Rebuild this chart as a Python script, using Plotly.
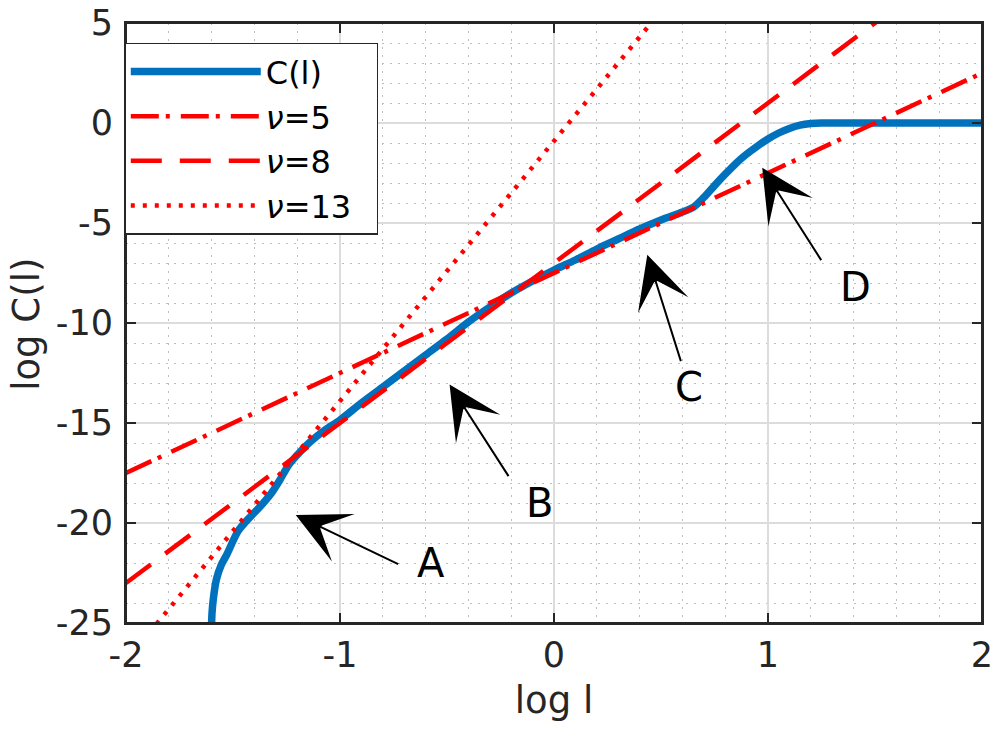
import numpy as np
import plotly.graph_objects as go

# ---------------- data ----------------
log_l = [-1.600, -1.598, -1.592, -1.577, -1.555, -1.530, -1.476, -1.420, -1.375,
         -1.320, -1.281, -1.240, -1.200, -1.140, -1.070, -1.000, -0.900, -0.800,
         -0.700, -0.600, -0.500, -0.400, -0.300, -0.200, -0.100, 0.000, 0.100,
         0.200, 0.300, 0.400, 0.500, 0.600, 0.650, 0.700, 0.750, 0.800, 0.850,
         0.900, 0.950, 1.000, 1.050, 1.100, 1.150, 1.200, 1.250, 1.300, 1.500,
         1.750, 2.000]
log_C = [-25.0, -24.5, -23.8, -22.8, -22.1, -21.6, -20.4, -19.7, -19.2,
         -18.5, -17.85, -17.1, -16.6, -15.95, -15.35, -14.85, -14.0, -13.2,
         -12.4, -11.6, -10.8, -9.95, -9.2, -8.5, -7.9, -7.35, -6.85,
         -6.3, -5.8, -5.3, -4.85, -4.45, -4.22, -3.72, -3.13, -2.56, -2.02,
         -1.56, -1.16, -0.8, -0.5, -0.27, -0.11, -0.03, 0.0, 0.0, 0.0,
         0.0, 0.0]

nu_values = [5, 8, 13]
nu_offsets = [-7.5, -7.0, -0.9]          # intercepts of the reference lines
nu_names = ["<i>ν</i>=5", "<i>ν</i>=8", "<i>ν</i>=13\u00a0\u00a0"]
nu_dashes = ["28px,7px,4px,11px", "31px,18px", "4px,8px"]
line_x = [-2.0, 2.0]

x_tickvals = [-2, -1, 0, 1, 2]
x_ticktext = ["-2", "-1", "0", "1", "2"]
y_tickvals = [-25, -20, -15, -10, -5, 0, 5]
y_ticktext = ["-25", "-20", "-15", "-10", "-5", "0", "5"]
x_range = [-2, 2]
y_range = [-25, 5]
x_title = "log l"
y_title = "log C(l)"

# annotations: label, tip (x,y), tail (x,y), text position (x,y)
ann_labels = ["A", "B", "C", "D"]
ann_tip = [(-1.207, -19.6), (-0.488, -13.08), (0.436, -6.59), (0.973, -2.24)]
ann_tail = [(-0.721, -22.09), (-0.208, -17.73), (0.595, -11.98), (1.253, -6.93)]
ann_text = [(-0.577, -22.0), (-0.068, -19.0), (0.632, -13.2), (1.407, -8.18)]

FONT = "DejaVu Sans"
AXC = "#262626"
PAGE_OFFSET = 8  # default body margin of the html page

fig = go.Figure()
fig.add_trace(go.Scatter(x=log_l, y=log_C, mode="lines", name="C(l)",
                         line=dict(color="#0072BD", width=7.5, shape="spline",
                                   smoothing=0.8)))
for nu, c, name, dash in zip(nu_values, nu_offsets, nu_names, nu_dashes):
    ys = [nu * xv + c for xv in line_x]
    fig.add_trace(go.Scatter(x=line_x, y=ys, mode="lines", name=name,
                             line=dict(color="#FF0000", width=4.5, dash=dash)))

annotations = []
for lab, tip, tail, tp in zip(ann_labels, ann_tip, ann_tail, ann_text):
    annotations.append(dict(x=tip[0], y=tip[1], ax=tail[0], ay=tail[1],
                            xref="x", yref="y", axref="x", ayref="y",
                            text="", showarrow=True, arrowhead=3,
                            arrowsize=4.4, arrowwidth=2, arrowcolor="black",
                            standoff=0, startstandoff=0))
    annotations.append(dict(x=tp[0], y=tp[1], xref="x", yref="y", text=lab,
                            showarrow=False,
                            font=dict(family=FONT, size=40, color="black")))
# y-axis title placed as a rotated text beside the axis
annotations.append(dict(x=0, y=0.497, xref="paper", yref="paper", text=y_title,
                        textangle=-90, showarrow=False, xanchor="center",
                        yanchor="middle", xshift=-99,
                        font=dict(family=FONT, size=37, color=AXC)))

axis_common = dict(showline=True, linecolor=AXC, linewidth=2, mirror="ticks",
                   ticks="inside", ticklen=10, tickwidth=2, tickcolor=AXC,
                   showgrid=True, gridcolor="#dcdcdc", gridwidth=1.5,
                   zeroline=False, tickmode="array", automargin=False,
                   ticklabeloverflow="allow",
                   tickfont=dict(family=FONT, size=35, color=AXC))

mirror_common = dict(showline=False, ticks="inside", ticklen=10, tickwidth=2,
                     tickcolor=AXC, showticklabels=False, showgrid=False,
                     zeroline=False, tickmode="array", automargin=False)

fig.update_layout(
    width=1006, height=741,
    margin=dict(l=125.5 - PAGE_OFFSET, r=23.5 + PAGE_OFFSET,
                t=23.3 - PAGE_OFFSET, b=117.7 + PAGE_OFFSET, autoexpand=False),
    paper_bgcolor="white", plot_bgcolor="white",
    font=dict(family=FONT, color=AXC),
    showlegend=True,
    legend=dict(x=-0.002, y=0.967, xanchor="left", yanchor="top",
                bgcolor="white", bordercolor=AXC, borderwidth=1.5,
                itemwidth=130, font=dict(family=FONT, size=32, color="black"),
                tracegroupgap=0),
    annotations=annotations,
    shapes=[dict(type="rect", xref="x domain", yref="y domain",
                 x0=0, x1=1, y0=0, y1=1, layer="above",
                 line=dict(color=AXC, width=2), fillcolor="rgba(0,0,0,0)")],
    xaxis=dict(range=x_range, tickvals=x_tickvals, ticktext=x_ticktext,
               ticklabelstandoff=0,
               title=dict(text=x_title, font=dict(family=FONT, size=37, color=AXC),
                          standoff=13),
               minor=dict(tickmode="linear", tick0=0, dtick=0.2, showgrid=True,
                          gridcolor="#bdbdbd", gridwidth=1.2, griddash="2px,6px",
                          ticks=""),
               **axis_common),
    yaxis=dict(range=y_range, tickvals=y_tickvals, ticktext=y_ticktext,
               ticklabelstandoff=4,
               minor=dict(tickmode="linear", tick0=0, dtick=1, showgrid=True,
                          gridcolor="#bdbdbd", gridwidth=1.2, griddash="2px,6px",
                          ticks=""),
               **axis_common),
    xaxis2=dict(overlaying="x", side="top", anchor="y", range=x_range,
                tickvals=x_tickvals, **mirror_common),
    yaxis2=dict(overlaying="y", side="right", anchor="x", range=y_range,
                tickvals=y_tickvals, **mirror_common),
)

fig.write_html("out.html")
